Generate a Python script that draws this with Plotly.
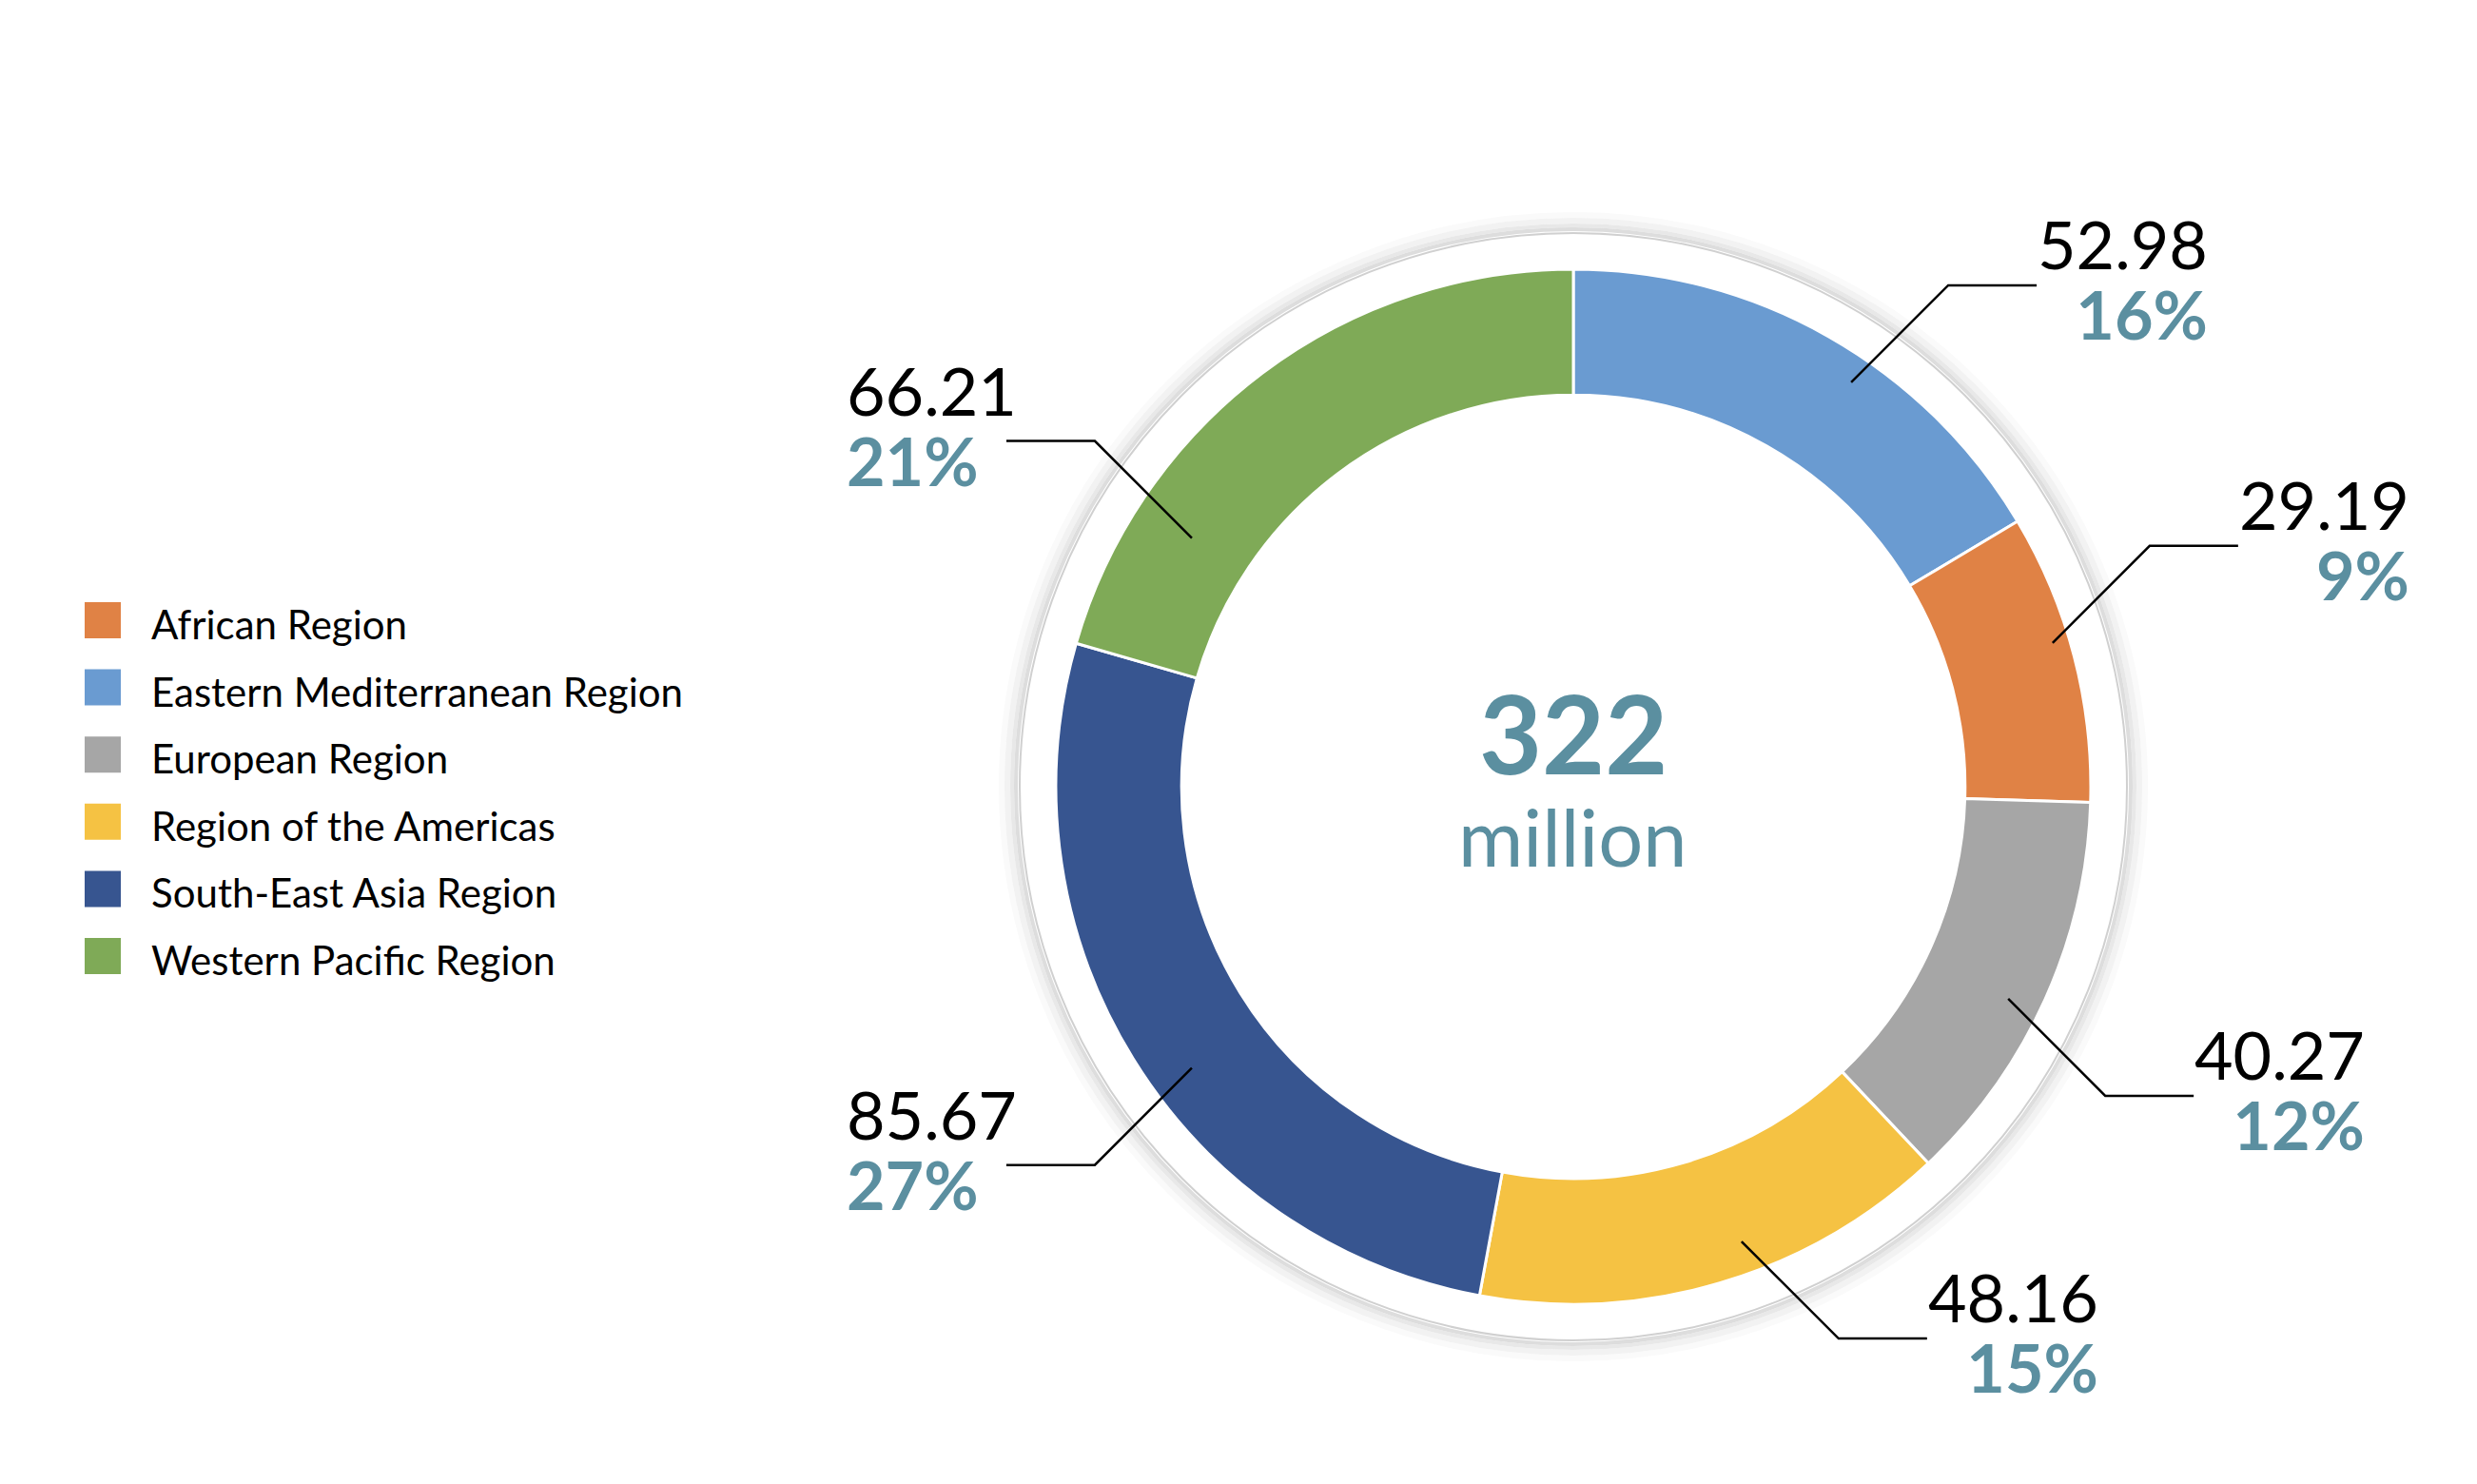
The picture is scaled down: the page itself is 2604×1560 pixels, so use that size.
import math
import plotly.graph_objects as go

# legend order (alphabetical, as in the source chart)
regions = ["African Region", "Eastern Mediterranean Region", "European Region",
           "Region of the Americas", "South-East Asia Region", "Western Pacific Region"]
values = [29.19, 52.98, 40.27, 48.16, 85.67, 66.21]  # million
colors = ["#E08245", "#6A9BD1", "#A6A6A6", "#F5C243", "#375590", "#7FAA57"]

# clockwise order of the slices, starting at 12 o'clock
pie_order = ["Eastern Mediterranean Region", "African Region", "European Region",
             "Region of the Americas", "South-East Asia Region", "Western Pacific Region"]

# where each leader line touches the ring (degrees clockwise from top, fraction of radius)
leader_angle = [34.5, 73.3, 116.0, 159.7, 233.6, 303.1]
leader_r = [0.948, 0.967, 0.935, 0.937, 0.916, 0.88]

W, H = 2604, 1560
OFF = 8  # page margin the browser puts round the plot div
CX, CY = 1654, 827
R_OUT = 544
TEAL = "#5B8FA0"
FONT = "Lato"


def fx(x):
    return (x - OFF) / W


def fy(y):
    return 1 - (y - OFF) / H


total = sum(values)
idx = [regions.index(n) for n in pie_order]

fig = go.Figure(go.Pie(
    labels=[regions[i] for i in idx],
    values=[values[i] for i in idx],
    marker=dict(colors=[colors[i] for i in idx], line=dict(color="white", width=3)),
    sort=False, direction="clockwise", rotation=0, hole=0.757,
    textinfo="none", hoverinfo="label+value+percent", showlegend=False,
    domain=dict(x=[fx(CX - R_OUT), fx(CX + R_OUT)], y=[fy(CY + R_OUT), fy(CY - R_OUT)]),
))

shapes = []
# soft shadow ring behind the donut
for r, c, w in [(601, "#fafafa", 6), (595, "#f2f2f2", 6), (590, "#e8e8e8", 4),
                (586, "#dddddd", 4), (582, "#d0d0d0", 2)]:
    shapes.append(dict(type="circle", xref="paper", yref="paper", layer="below",
                       x0=fx(CX - r), x1=fx(CX + r), y0=fy(CY + r), y1=fy(CY - r),
                       line=dict(color=c, width=w), fillcolor="white"))

annotations = []
# leader lines + value/percent labels
for name, ang, rf in zip(pie_order, leader_angle, leader_r):
    v = values[regions.index(name)]
    pct = round(100 * v / total)
    t = math.radians(ang)
    x0 = CX + rf * R_OUT * math.sin(t)
    y0 = CY - rf * R_OUT * math.cos(t)
    sx = 1 if math.sin(t) > 0 else -1
    sy = -1 if math.cos(t) > 0 else 1
    x1, y1 = x0 + sx * 102, y0 + sy * 102
    x2 = x1 + sx * 93
    shapes.append(dict(type="path", xref="paper", yref="paper", layer="above",
                       path=f"M {fx(x0)},{fy(y0)} L {fx(x1)},{fy(y1)} L {fx(x2)},{fy(y1)}",
                       line=dict(color="black", width=2.5)))
    if sx > 0:
        tx, anchor, ty = x2 + 182, "right", y1 - 7
    else:
        tx, anchor, ty = x2 - 170, "left", y1 - 17
    # 57px base size gives a 74px line pitch; the glyphs themselves are 70px
    label = (f"<span style='font-size:70px'>{v:.2f}</span><br>"
             f"<span style='font-size:70px;color:{TEAL}'><b>{pct}%</b></span>")
    annotations.append(dict(x=fx(tx), y=fy(ty), xref="paper", yref="paper",
                            text=label, showarrow=False, xanchor=anchor, yanchor="middle",
                            align=anchor, font=dict(family=FONT, size=57, color="black")))

# centre total
annotations.append(dict(x=fx(CX), y=fy(769), xref="paper", yref="paper",
                        text=f"<b>{round(total)}</b>", showarrow=False, yanchor="middle",
                        font=dict(family=FONT, size=114, color=TEAL)))
annotations.append(dict(x=fx(CX), y=fy(879), xref="paper", yref="paper",
                        text="million", showarrow=False, yanchor="middle",
                        font=dict(family=FONT, size=83, color=TEAL)))

# legend drawn by hand so the swatches match the original size
for k, (name, col) in enumerate(zip(regions, colors)):
    yc = 652 + k * 70.6
    shapes.append(dict(type="rect", xref="paper", yref="paper",
                       x0=fx(89), x1=fx(127), y0=fy(yc + 19), y1=fy(yc - 19),
                       fillcolor=col, line=dict(width=0)))
    annotations.append(dict(x=fx(157), y=fy(yc + 4), xref="paper", yref="paper",
                            text=name, showarrow=False, xanchor="left", yanchor="middle",
                            font=dict(family=FONT, size=42, color="black")))

fig.update_layout(width=W, height=H, margin=dict(l=0, r=0, t=0, b=0),
                  paper_bgcolor="white", plot_bgcolor="white",
                  shapes=shapes, annotations=annotations)
fig.write_html("out.html")
